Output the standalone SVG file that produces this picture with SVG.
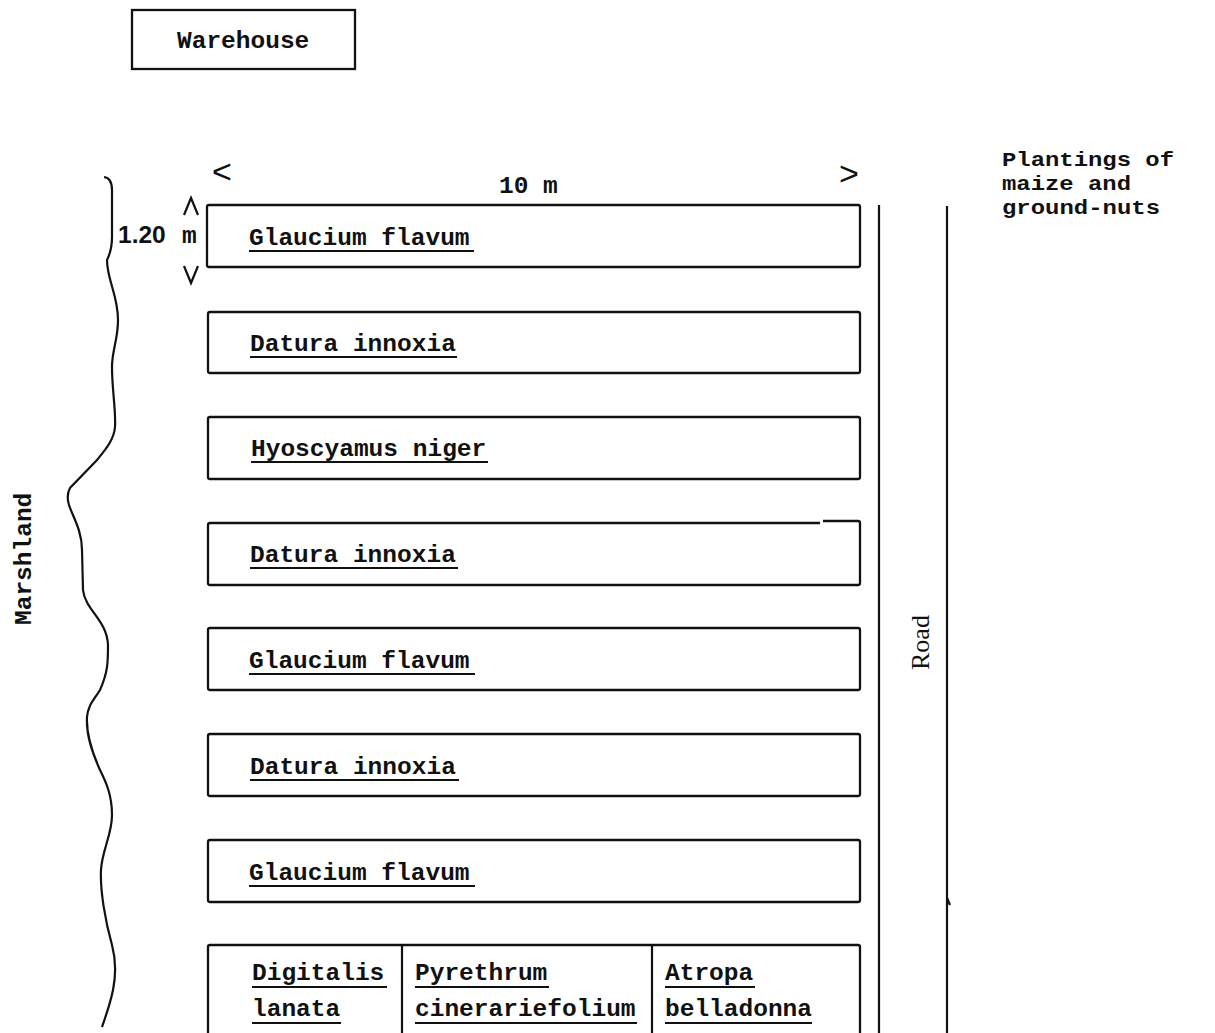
<svg xmlns="http://www.w3.org/2000/svg" width="1215" height="1033" viewBox="0 0 1215 1033">
<style>
text{font-family:"Liberation Mono","Courier New",monospace;font-size:24.5px;font-weight:bold;fill:#111}
.box{fill:none;stroke:#111;stroke-width:2.3}
.ln{fill:none;stroke:#111;stroke-width:2.2}
.ul{stroke:#111;stroke-width:2.2}
.pl{font-size:21px}
.chev{font-family:"Liberation Sans",Arial,sans-serif;font-size:34px;font-weight:normal}
</style>
<rect width="1215" height="1033" fill="#fff"/>

<g id="warehouse">
<rect class="box" x="132" y="10" width="223" height="59"/>
<text x="177" y="48" font-size="23.5">Warehouse</text>
</g>

<g id="marshland">
<path class="ln" stroke-width="2.5" d="M104,177 Q112,178 112,190 L112,237 Q112,250 107,260 C107,280 118,295 118,320 C118,340 112,350 112,367 C112,390 116,410 115,427 C114,440 105,450 97,460 L70,488 Q66,495 69,505 C72,515 82,530 82,550 L83,590 C85,610 107,620 108,645 C108,662 108,672 100,690 C94,700 88,705 87,717 C86,735 92,752 100,770 C106,782 112,795 112,815 C112,835 102,850 101,870 C100,890 105,920 112,945 C116,960 116,975 113,990 C110,1005 105,1018 102,1027"/>
<text transform="translate(31,625) rotate(-90)">Marshland</text>
</g>

<g id="dimensions">
<text class="chev" x="212" y="183">&lt;</text>
<text class="chev" x="839" y="185">&gt;</text>
<text x="499" y="193">10 m</text>
<path class="ln" d="M184,215 L191,198 L198,215" stroke-width="1.6"/>
<path class="ln" d="M184,266 L191,283 L198,266" stroke-width="2.2"/>
<text x="118" y="243" font-size="23" style="font-family:'Liberation Sans',Arial,sans-serif" font-weight="normal">1.20</text>
<text x="182" y="243" font-size="18">m</text>
</g>

<g id="plot1">
<rect class="box" x="207" y="205" width="653" height="62" rx="2"/>
<text x="249" y="245">Glaucium flavum</text>
<line class="ul" x1="249" y1="251" x2="474" y2="251"/>
</g>
<g id="plot2">
<rect class="box" x="208" y="312" width="652" height="61" rx="2"/>
<text x="250" y="351">Datura innoxia</text>
<line class="ul" x1="250" y1="357" x2="457" y2="357"/>
</g>
<g id="plot3">
<rect class="box" x="208" y="417" width="652" height="62" rx="2"/>
<text x="251" y="456">Hyoscyamus niger</text>
<line class="ul" x1="251" y1="462" x2="488" y2="462"/>
</g>
<g id="plot4">
<path class="box" d="M820,523 L210,523 Q208,523 208,525 L208,583 Q208,585 210,585 L858,585 Q860,585 860,583 L860,523 Q860,521 858,521 L823,521"/>
<text x="250" y="562">Datura innoxia</text>
<line class="ul" x1="250" y1="568" x2="458" y2="568"/>
</g>
<g id="plot5">
<rect class="box" x="208" y="628" width="652" height="62" rx="2"/>
<text x="249" y="668">Glaucium flavum</text>
<line class="ul" x1="249" y1="674" x2="475" y2="674"/>
</g>
<g id="plot6">
<rect class="box" x="208" y="734" width="652" height="62" rx="2"/>
<text x="250" y="774">Datura innoxia</text>
<line class="ul" x1="250" y1="780" x2="459" y2="780"/>
</g>
<g id="plot7">
<rect class="box" x="208" y="840" width="652" height="62" rx="2"/>
<text x="249" y="880">Glaucium flavum</text>
<line class="ul" x1="249" y1="886" x2="475" y2="886"/>
</g>
<g id="plot8">
<path class="box" d="M208,1033 L208,947 Q208,945 210,945 L858,945 Q860,945 860,947 L860,1033"/>
<line class="ln" x1="402" y1="945" x2="402" y2="1033"/>
<line class="ln" x1="652" y1="945" x2="652" y2="1033"/>
<text x="252" y="980">Digitalis</text>
<line class="ul" x1="252" y1="987" x2="387" y2="987"/>
<text x="252" y="1016">lanata</text>
<line class="ul" x1="252" y1="1023" x2="341" y2="1023"/>
<text x="415" y="980">Pyrethrum</text>
<line class="ul" x1="415" y1="987" x2="549" y2="987"/>
<text x="415" y="1016">cinerariefolium</text>
<line class="ul" x1="415" y1="1023" x2="637" y2="1023"/>
<text x="665" y="980">Atropa</text>
<line class="ul" x1="665" y1="987" x2="755" y2="987"/>
<text x="665" y="1016">belladonna</text>
<line class="ul" x1="665" y1="1023" x2="812" y2="1023"/>
</g>

<g id="road">
<line class="ln" x1="879" y1="205" x2="879" y2="1033"/>
<line class="ln" x1="947" y1="206" x2="947" y2="1033"/>
<line class="ln" x1="947" y1="898" x2="950" y2="905" stroke-width="1.5"/>
<text transform="translate(929,670) rotate(-90)" style="font-family:'Liberation Serif','Times New Roman',serif;font-size:26px;font-weight:normal">Road</text>
</g>

<g id="plantings">
<text class="pl" x="1002" y="166" textLength="172" lengthAdjust="spacingAndGlyphs">Plantings of</text>
<text class="pl" x="1002" y="190" textLength="129" lengthAdjust="spacingAndGlyphs">maize and</text>
<text class="pl" x="1002" y="214" textLength="158" lengthAdjust="spacingAndGlyphs">ground-nuts</text>
</g>

<g id="connectors"></g>
</svg>
